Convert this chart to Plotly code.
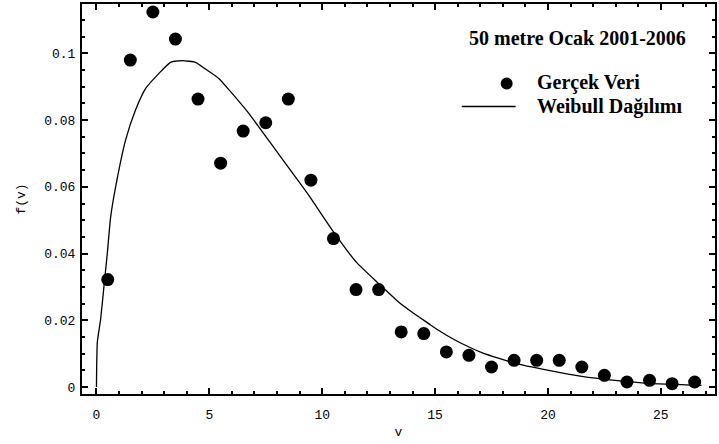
import plotly.graph_objects as go

# Observed data (bin centers, relative frequency)
v_data = [0.5, 1.5, 2.5, 3.5, 4.5, 5.5, 6.5, 7.5, 8.5, 9.5, 10.5, 11.5, 12.5, 13.5,
          14.5, 15.5, 16.5, 17.5, 18.5, 19.5, 20.5, 21.5, 22.5, 23.5, 24.5, 25.5, 26.5]
f_data = [0.0322, 0.098, 0.1124, 0.1043, 0.0863, 0.0671, 0.0767, 0.0792, 0.0863, 0.062,
          0.0445, 0.0292, 0.0292, 0.0165, 0.016, 0.0105, 0.0095, 0.006, 0.008, 0.008,
          0.008, 0.006, 0.0035, 0.0015, 0.002, 0.001, 0.0015]

# Weibull curve
v_fit = [0.0, 0.04, 0.18, 0.33, 0.48, 0.63, 0.85, 1.29, 1.73, 2.18, 2.77, 3.28, 3.8,
         4.39, 4.83, 5.42, 6.01, 6.75, 8.08, 8.81, 9.4, 10.5, 11.5, 12.5, 13.38, 13.97,
         14.72, 15.15, 15.9, 17.07, 18.55, 20.03, 21.5, 22.97, 24.45, 26.8]
f_fit = [0.0, 0.0135, 0.02, 0.030, 0.040, 0.051, 0.060, 0.074, 0.083, 0.0895, 0.094,
         0.0973, 0.0978, 0.0973, 0.0953, 0.0925, 0.088, 0.082, 0.0697, 0.063, 0.0575,
         0.0465, 0.0375, 0.031, 0.0255, 0.0225, 0.019, 0.017, 0.014, 0.0103, 0.0071,
         0.005, 0.0032, 0.002, 0.0011, 0.0005]

x_ticks = [0, 5, 10, 15, 20, 25]
y_ticks = [0, 0.02, 0.04, 0.06, 0.08, 0.1]
y_ticktext = ["0", "0.02", "0.04", "0.06", "0.08", "0.1"]

legend_title = "50 metre Ocak 2001-2006"
legend_data = "Gerçek Veri"
legend_fit = "Weibull Dağılımı"

mono = "Liberation Mono, DejaVu Sans Mono, monospace"
serif = "Liberation Serif, Times New Roman, serif"

fig = go.Figure()
fig.add_trace(go.Scatter(x=v_data, y=f_data, mode="markers",
                         marker=dict(color="black", size=13),
                         name=legend_data, showlegend=False))
fig.add_trace(go.Scatter(x=v_fit, y=f_fit, mode="lines",
                         line=dict(color="black", width=1.3, shape="spline", smoothing=0.5),
                         name=legend_fit, showlegend=False))

axis_common = dict(showline=True, linecolor="black", linewidth=2, mirror="allticks",
                   ticks="inside", ticklen=6, tickwidth=1.5, tickcolor="black",
                   showgrid=False, zeroline=False,
                   tickfont=dict(family=mono, size=13, color="black"))

fig.update_xaxes(range=[-0.64, 27.4], tickvals=x_ticks, ticklabelstandoff=7,
                 minor=dict(dtick=1, ticks="inside", ticklen=3, tickcolor="black", showgrid=False),
                 title=dict(text="v", font=dict(family=mono, size=13, color="black"), standoff=5),
                 **axis_common)
fig.update_yaxes(range=[-0.0021, 0.1148], tickvals=y_ticks, ticktext=y_ticktext, ticklabelstandoff=2,
                 minor=dict(dtick=0.005, tick0=0, ticks="inside", ticklen=3, tickcolor="black", showgrid=False),
                 title=dict(text="f(v)", font=dict(family=mono, size=13, color="black"), standoff=16),
                 **axis_common)

# Manual legend (plot area spans x 82..717 px, y 4..394 px)
def px(xp):
    return (xp - 82) / 635.0

def py(yp):
    return (394 - yp) / 390.0

lf = dict(family=serif, size=20, color="black")
fig.add_annotation(xref="paper", yref="paper", x=px(468), y=py(38), xanchor="left", yanchor="middle",
                   text="<b>" + legend_title + "</b>", showarrow=False, font=lf)
fig.add_annotation(xref="paper", yref="paper", x=px(536), y=py(83), xanchor="left", yanchor="middle",
                   text="<b>" + legend_data + "</b>", showarrow=False, font=lf)
fig.add_annotation(xref="paper", yref="paper", x=px(536), y=py(107), xanchor="left", yanchor="middle",
                   text="<b>" + legend_fit + "</b>", showarrow=False, font=lf)
fig.add_shape(type="circle", xref="paper", yref="paper",
              x0=px(502), x1=px(514), y0=py(89.5), y1=py(77.5),
              fillcolor="black", line=dict(color="black", width=0))
fig.add_shape(type="line", xref="paper", yref="paper",
              x0=px(463), x1=px(517), y0=py(106.5), y1=py(106.5),
              line=dict(color="black", width=1.3))

fig.update_layout(
    width=719, height=444,
    margin=dict(l=82, r=2, t=4, b=50),
    paper_bgcolor="white", plot_bgcolor="white",
    showlegend=False,
)

fig.write_html("out.html")
